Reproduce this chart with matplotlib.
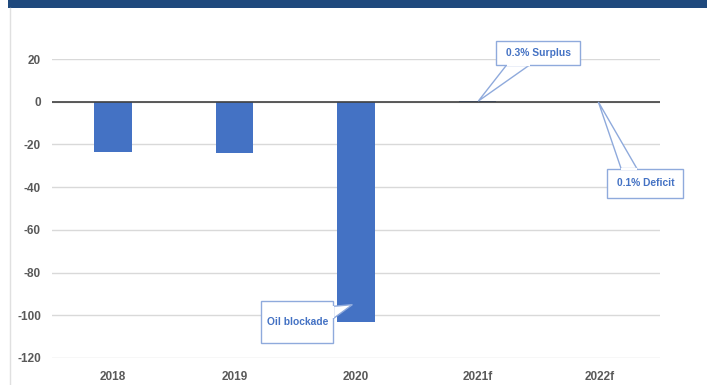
import matplotlib
matplotlib.use("Agg")
from matplotlib import pyplot as plt
from matplotlib.patches import Polygon, Rectangle
from matplotlib.lines import Line2D
import numpy as np

# data
categories = ["2018", "2019", "2020", "2021f", "2022f"]
balance = [-23.4, -24.2, -103.0, 0.3, -0.1]
y_ticks = [20, 0, -20, -40, -60, -80, -100, -120]

bar_color = "#4472C4"
label_color = "#595959"
callout_edge = "#8FAADC"

plt.rcParams.update({
    "font.family": ["Liberation Sans", "DejaVu Sans"],
    "font.size": 8.5,
    "axes.unicode_minus": False,
})

fig = plt.figure(figsize=(7.07, 3.85), dpi=100)
ax = fig.add_axes([52 / 707, 1 - 358 / 385, 608 / 707, 299 / 385])

x = np.arange(len(categories))
ax.bar(x, balance, width=0.31, color=bar_color, zorder=2)

ax.set_xlim(-0.5, len(categories) - 0.5)
ax.set_ylim(-120, 20)
ax.set_yticks(y_ticks)
ax.set_xticks(x, categories)
ax.tick_params(length=0, colors=label_color)
ax.tick_params(axis="x", pad=9)
ax.tick_params(axis="y", pad=8)
for t in ax.get_xticklabels() + ax.get_yticklabels():
    t.set_fontweight("bold")

ax.grid(True, axis="y", color="#D9D9D9", linewidth=1, zorder=0)
ax.axhline(0, color="#404040", linewidth=1.2, zorder=3)
for s in ax.spines.values():
    s.set_visible(False)


def callout(text, box, tip, base):
    # box = (x0, x1, y0, y1) in data units; wedge from the box edge to the value
    x0, x1, y0, y1 = box
    tri = Polygon([base[0], tip, base[1]], closed=True, facecolor="white",
                  edgecolor=callout_edge, linewidth=1, zorder=4, clip_on=False)
    ax.add_patch(tri)
    rect = Rectangle((x0, y0), x1 - x0, y1 - y0, facecolor="white",
                     edgecolor=callout_edge, linewidth=1, zorder=5, clip_on=False)
    ax.add_patch(rect)
    # hide the box edge where the wedge joins it
    ax.plot([base[0][0], base[1][0]], [base[0][1], base[1][1]], color="white",
            linewidth=1.6, zorder=6, clip_on=False, solid_capstyle="butt")
    ax.text((x0 + x1) / 2, (y0 + y1) / 2, text, ha="center", va="center",
            color=bar_color, fontweight="bold", fontsize=7.4, zorder=7, clip_on=False)


callout("0.3% Surplus", (3.155, 3.845, 17.3, 28.5), (3.006, 0.3),
        [(3.24, 17.3), (3.43, 17.3)])
callout("0.1% Deficit", (4.068, 4.693, -44.9, -31.3), (3.993, -0.1),
        [(4.18, -31.3), (4.31, -31.3)])
callout("Oil blockade", (1.222, 1.814, -113.2, -93.1), (1.97, -95.0),
        [(1.814, -95.8), (1.814, -101.5)])

# frame of the slide: dark band on top and a thin border on the left
fig.patches.append(Rectangle((8 / 707, 1 - 8 / 385), 1, 8 / 385, transform=fig.transFigure,
                             facecolor="#1F497D", edgecolor="none"))
fig.lines.append(Line2D([10 / 707, 10 / 707], [0, 1 - 8 / 385], transform=fig.transFigure,
                        color="#E0E0E0", linewidth=1))

fig.savefig("out.png", dpi=100)
